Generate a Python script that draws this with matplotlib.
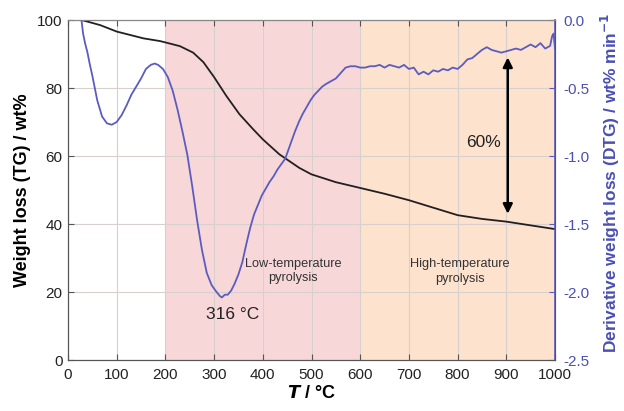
import matplotlib
matplotlib.use("Agg")
import matplotlib.pyplot as plt

plt.rcParams['font.family'] = ['Liberation Sans', 'DejaVu Sans']

# TG curve (wt%)
tg_T = [28, 66, 100, 155, 189, 203, 230, 257, 278, 300, 325, 352, 380, 400, 434, 475,
        500, 550, 600, 650, 700, 750, 800, 850, 900, 950, 1000]
tg_W = [100.0, 98.5, 96.6, 94.6, 93.8, 93.3, 92.3, 90.4, 87.6, 83.2, 77.7, 72.3, 67.9, 64.9,
        60.5, 56.5, 54.6, 52.3, 50.6, 48.9, 47.0, 44.8, 42.6, 41.5, 40.7, 39.6, 38.5]

# DTG curve (wt% min^-1)
dtg_T = [28, 31, 35, 40, 45, 50, 60, 70, 80, 90, 100,
         110, 120, 130, 140, 150, 160, 170, 178,
         185, 195, 205, 215, 225, 235, 245, 255, 265, 275, 285, 295, 305, 312, 316, 322,
         328, 335, 342, 350, 358, 366, 374, 382, 390, 398, 406, 414, 422, 430, 438, 446,
         452, 458, 466, 474, 482, 490, 498, 506, 514, 522, 530, 540, 550, 560, 570, 580,
         590, 600, 610, 620, 630, 640, 650, 660, 670, 680, 690, 700, 710, 720, 730, 740,
         750, 760, 770, 780, 790, 800, 810, 820, 830, 840, 850, 860, 870, 880,
         890, 900, 910, 920, 930, 940, 950, 960, 970, 980, 990, 994, 997, 1000]
dtg_V = [-0.01, -0.10, -0.17, -0.24, -0.33, -0.41, -0.59, -0.71, -0.76, -0.77, -0.75,
         -0.70, -0.63, -0.55, -0.49, -0.43, -0.36, -0.33, -0.32,
         -0.33, -0.36, -0.42, -0.52, -0.66, -0.82, -0.99, -1.22, -1.47, -1.69, -1.86, -1.95,
         -2.00, -2.03, -2.04, -2.02,
         -2.02, -1.99, -1.94, -1.87, -1.78, -1.65, -1.53, -1.43, -1.36, -1.29, -1.24, -1.19,
         -1.15, -1.10, -1.06, -1.02,
         -0.96, -0.90, -0.82, -0.75, -0.69, -0.64, -0.59, -0.55, -0.52, -0.49, -0.47, -0.45,
         -0.43, -0.39, -0.35, -0.34,
         -0.34, -0.35, -0.35, -0.34, -0.34, -0.33, -0.35, -0.33, -0.34, -0.35, -0.33, -0.36,
         -0.35, -0.40, -0.38, -0.40,
         -0.37, -0.38, -0.36, -0.37, -0.35, -0.36, -0.33, -0.29, -0.28, -0.25, -0.22, -0.20,
         -0.22, -0.23,
         -0.24, -0.23, -0.22, -0.21, -0.22, -0.20, -0.18, -0.20, -0.17, -0.21, -0.19, -0.12,
         -0.10, -0.21]

x_ticks = [0, 100, 200, 300, 400, 500, 600, 700, 800, 900, 1000]
tg_ticks = [0, 20, 40, 60, 80, 100]
dtg_ticks = [0.0, -0.5, -1.0, -1.5, -2.0, -2.5]
dtg_tick_labels = ["0.0", "-0.5", "-1.0", "-1.5", "-2.0", "-2.5"]

low_region = (200, 600)
high_region = (600, 1000)
peak_label = "316 °C"
loss_label = "60%"
arrow_T = 903
arrow_top = 89
arrow_bottom = 43

blue = "#5a5cc0"
label_blue = "#4a4fb5"

fig = plt.figure(figsize=(6.24, 4.11), dpi=100)
ax = fig.add_axes([68 / 624, 1 - 360 / 411, (555 - 68) / 624, (360 - 20) / 411])
ax2 = ax.twinx()

ax.axvspan(*low_region, color="#f8d7d9", zorder=0, lw=0)
ax.axvspan(*high_region, color="#fde2ce", zorder=0, lw=0)

ax.set_xlim(0, 1000)
ax.set_ylim(0, 100)
ax2.set_ylim(-2.5, 0.0)

ax.set_xticks(x_ticks)
ax.set_yticks(tg_ticks)
ax2.set_yticks(dtg_ticks)
ax2.set_yticklabels(dtg_tick_labels)

ax.grid(True, color="#d8d0cc", lw=0.8, zorder=0.5)
ax.set_axisbelow(True)

ax.plot(tg_T, tg_W, color="#231f20", lw=1.3, zorder=3)
ax2.plot(dtg_T, dtg_V, color=blue, lw=1.3, zorder=3)

ax.annotate("", xy=(arrow_T, arrow_bottom), xytext=(arrow_T, arrow_top),
            arrowprops=dict(arrowstyle="<|-|>", color="black", lw=1.8,
                            mutation_scale=14, shrinkA=0, shrinkB=0), zorder=4)
ax.text(853, 64, loss_label, fontsize=12.5, ha="center", va="center", color="#222222")
ax.text(338, 13.5, peak_label, fontsize=12.5, ha="center", va="center", color="#222222")
ax.text(462, 26.2, "Low-temperature\npyrolysis", fontsize=9.2, ha="center", va="center",
        color="#333333", linespacing=1.3)
ax.text(805, 26.0, "High-temperature\npyrolysis", fontsize=9.2, ha="center", va="center",
        color="#333333", linespacing=1.3)

for a in (ax, ax2):
    a.tick_params(direction="in", length=4, width=0.8, labelsize=11)
ax.tick_params(axis="both", colors="#555555", labelcolor="#222222")
ax.tick_params(axis="x", top=True, pad=6)
ax.tick_params(axis="y", pad=4)
ax2.tick_params(axis="y", colors=blue, labelcolor=label_blue, pad=6)

for s in ("left", "bottom", "top"):
    ax.spines[s].set_color("#555555")
ax2.spines["right"].set_color(blue)
ax2.spines["right"].set_linewidth(1.2)
ax2.spines["left"].set_color("#555555")
ax2.spines["top"].set_color("#888888")
ax2.spines["bottom"].set_color("#555555")

ax.set_ylabel("Weight loss (TG) / wt%", fontsize=13, fontweight="bold", labelpad=4)
ax.set_xlabel(r"$\boldsymbol{T}$ / °C", fontsize=13, fontweight="bold", labelpad=2)
ax2.set_ylabel(r"Derivative weight loss (DTG) / wt% min$^{\mathbf{-1}}$", fontsize=12.5,
               fontweight="bold", color=label_blue)
ax2.yaxis.set_label_coords(1.09, 0.52)

fig.savefig("out.png", dpi=100)
